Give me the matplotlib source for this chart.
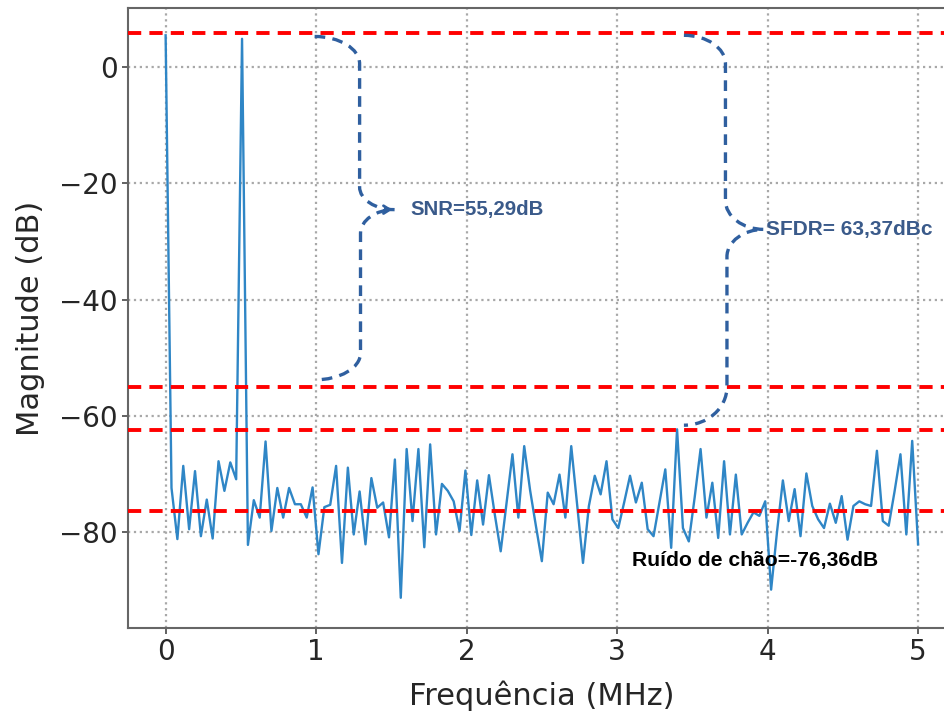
import numpy as np
import matplotlib
matplotlib.use("Agg")
import matplotlib.pyplot as plt
from matplotlib.path import Path
from matplotlib.patches import PathPatch

# ---- data ----
n_bins = 129
f_max = 5.0
magnitude_db = [
    5.5, -72.4, -81.2, -68.6, -79.5, -69.5, -80.7, -74.4, -81.1, -67.8,
    -72.9, -68.0, -70.9, 4.9, -82.2, -74.5, -77.5, -64.4, -79.8, -72.4,
    -77.5, -72.4, -75.2, -75.2, -77.5, -72.3, -83.8, -75.7, -75.3, -68.6,
    -85.3, -68.9, -80.4, -73.0, -82.1, -70.7, -75.8, -74.9, -80.9, -67.5,
    -91.3, -65.7, -78.1, -65.7, -82.6, -64.9, -80.4, -71.7, -72.9, -74.7,
    -79.8, -69.4, -80.5, -71.1, -78.7, -70.2, -77.0, -83.3, -75.0, -66.6,
    -77.5, -65.2, -72.8, -79.0, -85.0, -73.2, -75.2, -70.1, -77.5, -65.2,
    -75.2, -85.3, -75.5, -70.3, -73.5, -67.8, -77.8, -79.3, -74.9, -70.3,
    -74.9, -71.5, -79.5, -80.7, -74.9, -69.2, -82.7, -62.3, -79.3, -81.6,
    -74.0, -65.7, -77.5, -71.5, -81.0, -67.8, -80.4, -70.1, -80.4, -78.4,
    -76.6, -77.2, -74.7, -89.9, -80.0, -71.1, -78.1, -72.6, -80.7, -69.9,
    -75.5, -77.8, -79.3, -75.1, -78.4, -73.8, -81.3, -75.5, -74.7, -75.2,
    -75.5, -66.0, -78.1, -78.9, -73.0, -66.6, -80.4, -64.3, -82.1,
]
freq_mhz = np.arange(n_bins) * f_max / (n_bins - 1)

ref_lines_db = [5.85, -55.05, -62.45, -76.36]
x_ticks = [0, 1, 2, 3, 4, 5]
y_ticks = [0, -20, -40, -60, -80]

snr_label = "SNR=55,29dB"
sfdr_label = "SFDR= 63,37dBc"
floor_label = "Ruído de chão=-76,36dB"

# ---- figure ----
fig = plt.figure(figsize=(9.45, 7.18), dpi=100)
ax = fig.add_axes([128 / 945, 1 - 628 / 718, 827.7 / 945, 620 / 718])

ax.plot(freq_mhz, magnitude_db, color="#2f86c6", lw=1.7, zorder=3)

for v in ref_lines_db:
    ax.axhline(v, color="#ff0000", lw=2.8, linestyle=(0, (3.4, 2.1)), zorder=4)

ax.set_xlim(-0.25, 5.25)
ax.set_ylim(-96.5, 10.2)
ax.set_xticks(x_ticks)
ax.set_yticks(y_ticks)
ax.tick_params(labelsize=20, colors="#262626", width=1.3, length=4)
ax.tick_params(axis="both", color="#555555")
ax.grid(True, linestyle=":", color="#a8a8a8", lw=1.6)
ax.set_xlabel("Frequência (MHz)", fontsize=22, color="#262626", labelpad=10)
ax.set_ylabel("Magnitude (dB)", fontsize=22, color="#262626", labelpad=10)
for s in ax.spines.values():
    s.set_color("#666666")
    s.set_linewidth(1.5)

brace_col = "#2f5f9f"
text_col = "#3a5a8a"
K = 0.552


def brace(x0, xv1, xv2, xtip, ytop, yc1, y1, ytip, y2, yc2, ybot):
    dx1 = xv1 - x0
    dy1 = ytop - yc1
    dxm1 = xtip - xv1
    dym1 = y1 - ytip
    dxm2 = xtip - xv2
    dym2 = ytip - y2
    dx2 = xv2 - x0
    dy2 = yc2 - ybot
    verts = [
        (x0, ytop), (x0 + K * dx1, ytop), (xv1, yc1 + K * dy1), (xv1, yc1),
        (xv1, y1),
        (xv1, y1 - K * dym1), (xtip - K * dxm1, ytip), (xtip, ytip),
        (xtip - K * dxm2, ytip), (xv2, y2 + K * dym2), (xv2, y2),
        (xv2, yc2),
        (xv2, yc2 - K * dy2), (x0 + K * dx2, ybot), (x0, ybot),
    ]
    codes = [Path.MOVETO, Path.CURVE4, Path.CURVE4, Path.CURVE4,
             Path.LINETO,
             Path.CURVE4, Path.CURVE4, Path.CURVE4,
             Path.CURVE4, Path.CURVE4, Path.CURVE4,
             Path.LINETO,
             Path.CURVE4, Path.CURVE4, Path.CURVE4]
    p = PathPatch(Path(verts, codes), fill=False, edgecolor=brace_col, lw=2.4,
                  linestyle=(0, (3.2, 2.2)), zorder=5)
    ax.add_patch(p)


brace(0.99, 1.289, 1.295, 1.52, 5.3, 0.6, -20.6, -24.5, -28.6, -49.2, -53.8)
ax.annotate("", xy=(1.525, -24.5), xytext=(1.47, -24.5),
            arrowprops=dict(arrowstyle="->,head_length=0.45,head_width=0.28",
                            color=brace_col, lw=2.0), zorder=6)
ax.text(1.625, -24.5, snr_label, fontsize=14.7, fontweight="bold",
        color=text_col, ha="left", va="center", family="Liberation Sans", zorder=6)

brace(3.444, 3.72, 3.73, 3.975, 5.5, 0.6, -22.9, -27.9, -32.6, -55.0, -61.6)
ax.text(3.99, -27.9, sfdr_label, fontsize=15, fontweight="bold",
        color=text_col, ha="left", va="center", family="Liberation Sans", zorder=6)

ax.text(3.10, -84.8, floor_label, fontsize=15.2, fontweight="bold",
        color="black", ha="left", va="center", family="Liberation Sans", zorder=6)

fig.savefig("out.png", dpi=100)
